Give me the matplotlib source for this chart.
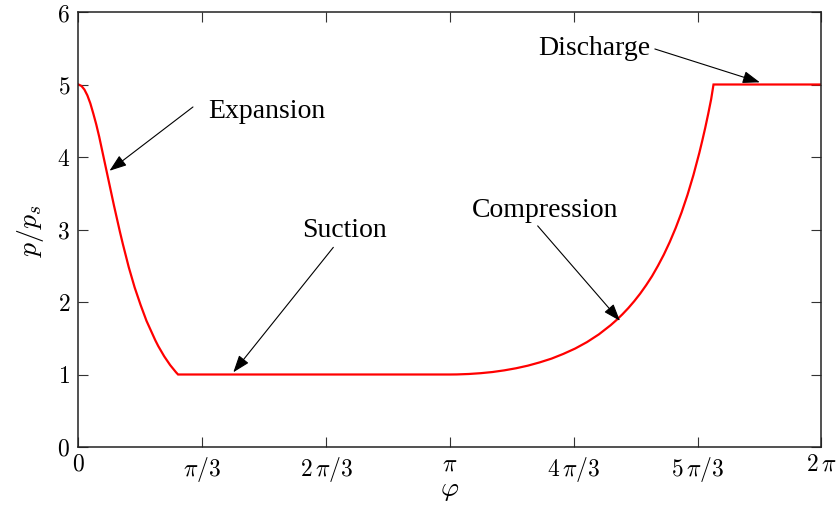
import numpy as np
import matplotlib
matplotlib.use("Agg")
import matplotlib.pyplot as plt

# Pressure ratio p/p_s over one crank revolution (phi in radians)
phi_expansion = [0.00, 0.025, 0.05, 0.075, 0.10, 0.125, 0.15, 0.175, 0.20, 0.225,
                 0.25, 0.275, 0.30, 0.325, 0.35, 0.375, 0.40, 0.425, 0.45, 0.475,
                 0.50, 0.525, 0.55, 0.575, 0.60, 0.625, 0.65, 0.675, 0.70, 0.725,
                 0.75, 0.775, 0.80, 0.825, 0.842]
p_expansion = [5.00, 4.98, 4.93, 4.85, 4.74, 4.60, 4.45, 4.28, 4.09, 3.90,
               3.71, 3.52, 3.33, 3.15, 2.97, 2.80, 2.64, 2.48, 2.34, 2.20,
               2.08, 1.96, 1.85, 1.74, 1.65, 1.56, 1.47, 1.39, 1.32, 1.25,
               1.19, 1.13, 1.08, 1.03, 1.00]

phi_suction = [0.842, 3.1416]
p_suction = [1.00, 1.00]

phi_compression = [3.1416, 3.20, 3.30, 3.40, 3.50, 3.60, 3.70, 3.80, 3.90, 4.00,
                   4.10, 4.20, 4.30, 4.40, 4.50, 4.55, 4.60, 4.65, 4.70, 4.75,
                   4.80, 4.85, 4.90, 4.95, 5.00, 5.05, 5.10, 5.15, 5.20, 5.25,
                   5.275, 5.30, 5.325, 5.35, 5.37]
p_compression = [1.000, 1.001, 1.007, 1.018, 1.034, 1.057, 1.086, 1.122, 1.167, 1.219,
                 1.284, 1.358, 1.447, 1.553, 1.680, 1.752, 1.831, 1.917, 2.012, 2.116,
                 2.231, 2.356, 2.499, 2.654, 2.828, 3.021, 3.236, 3.478, 3.750, 4.057,
                 4.226, 4.403, 4.594, 4.797, 5.000]

phi_discharge = [5.37, 6.2832]
p_discharge = [5.00, 5.00]

xtick_labels = [r"$0$", r"$\pi/3$", r"$2\,\pi/3$", r"$\pi$",
                r"$4\,\pi/3$", r"$5\,\pi/3$", r"$2\,\pi$"]
ytick_labels = [str(v) for v in range(7)]

plt.rcParams["mathtext.fontset"] = "cm"
plt.rcParams["font.family"] = ["Liberation Serif", "DejaVu Serif"]

fig = plt.figure(figsize=(8.37, 5.10), dpi=100)
ax = fig.add_axes([78.5 / 837, 1 - 448 / 510, 743 / 837, 435 / 510])

phi = phi_expansion + phi_suction[1:] + phi_compression[1:] + phi_discharge[1:]
p = p_expansion + p_suction[1:] + p_compression[1:] + p_discharge[1:]
ax.plot(phi, p, color="#ff0000", lw=1.6, solid_joinstyle="miter")

ax.set_xlim(0, 2 * np.pi)
ax.set_ylim(0, 6)
ax.set_xticks([k * np.pi / 3 for k in range(7)])
ax.set_xticklabels(xtick_labels)
ax.set_yticks(range(7))
ax.set_yticklabels([f"${t}$" for t in ytick_labels])

ax.tick_params(direction="in", length=7, width=0.8, top=True, right=True,
               labelsize=17, pad=6, color="#333333")
ax.tick_params(axis="x", pad=5)
for s in ax.spines.values():
    s.set_linewidth(1.1)
    s.set_color("#222222")

ax.set_xlabel(r"$\varphi$", fontsize=20, labelpad=-4)
ax.set_ylabel(r"$p/p_s$", fontsize=20, labelpad=8)

arrow = dict(arrowstyle="-|>,head_length=0.7,head_width=0.25", color="black",
             lw=0.8, shrinkA=0, shrinkB=0, mutation_scale=15)

notes = [
    ("Expansion", (1.096, 4.55), (0.968, 4.69), (0.262, 3.81)),
    ("Suction", (1.887, 2.906), (2.155, 2.754), (1.309, 1.03)),
    ("Compression", (3.325, 3.19), (3.883, 3.05), (4.579, 1.74)),
    ("Discharge", (3.885, 5.42), (4.874, 5.49), (5.762, 5.03)),
]
for label, txt_pos, start, tip in notes:
    ax.text(*txt_pos, label, fontsize=20, ha="left", va="baseline")
    ax.annotate("", xy=tip, xytext=start, arrowprops=arrow)

fig.savefig("out.png", dpi=100)
